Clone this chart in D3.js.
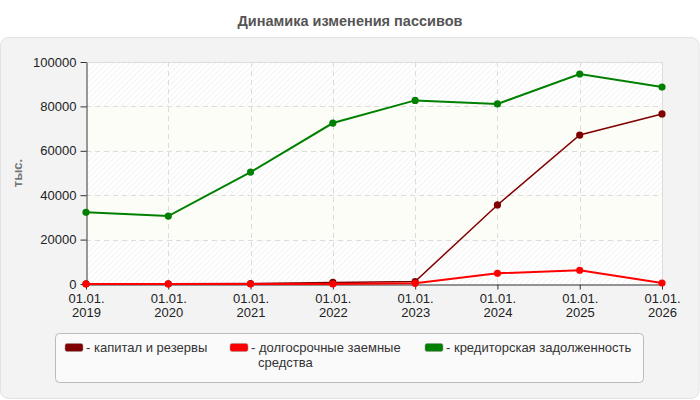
<!DOCTYPE html>
<html><head><meta charset="utf-8">
<script src="https://cdn.jsdelivr.net/npm/d3@7"></script>
<style>body{margin:0;background:#fff;}svg{display:block;font-family:"Liberation Sans",Arial,sans-serif;}</style>
</head><body><svg id="c" width="700" height="400"></svg>
<script>
const categories = ["01.01.2019","01.01.2020","01.01.2021","01.01.2022","01.01.2023","01.01.2024","01.01.2025","01.01.2026"];
const seriesNames = ["капитал и резервы","долгосрочные заемные средства","кредиторская задолженность"];
const seriesColors = ["#800000","#ff0000","#008000"];
const capital = [100, 100, 200, 700, 1100, 35600, 67100, 76600];
const longTerm = [0, 0, 0, 0, 300, 4800, 6200, 450];
const payables = [32300, 30600, 50400, 72500, 82700, 81100, 94600, 88700];
const yTicks = [0, 20000, 40000, 60000, 80000, 100000];
const title = "Динамика изменения пассивов";
const yLabel = "тыс.";

const svg = d3.select("#c");
const defs = svg.append("defs");
const pat = defs.append("pattern").attr("id","hatch").attr("patternUnits","userSpaceOnUse")
  .attr("width",4).attr("height",4).attr("patternTransform","rotate(45)");
pat.append("rect").attr("width",4).attr("height",4).attr("fill","#ffffff");
pat.append("line").attr("x1",0).attr("y1",0).attr("x2",0).attr("y2",4).attr("stroke","#efefef").attr("stroke-width",1.5);

svg.append("text").attr("x",350).attr("y",26).attr("text-anchor","middle")
  .attr("font-size",14.5).attr("font-weight","bold").attr("fill","#555").text(title);

svg.append("rect").attr("x",0.5).attr("y",37.5).attr("width",698.5).attr("height",361).attr("rx",8)
  .attr("fill","#f3f3f3").attr("stroke","#e2e2e2");

const L=86, R=662, T=62, B=284;
const x = d3.scalePoint().domain(categories).range([L,R]);
const y = d3.scaleLinear().domain([0,100000]).range([B,T]);

// bands
for (let i=0;i<yTicks.length-1;i++){
  svg.append("rect").attr("x",L).attr("y",y(yTicks[i+1])).attr("width",R-L).attr("height",y(yTicks[i])-y(yTicks[i+1]))
    .attr("fill", i%2===0 ? "url(#hatch)" : "#fdfdf7");
}
// grid
const g = svg.append("g");
g.selectAll(".hg").data(yTicks.slice(1)).join("line").attr("x1",L).attr("x2",R)
  .attr("y1",d=>Math.round(y(d))+0.5).attr("y2",d=>Math.round(y(d))+0.5)
  .attr("stroke","#dcdcdc").attr("stroke-dasharray","5,4");
g.selectAll(".vg").data(categories.slice(1)).join("line").attr("y1",T).attr("y2",B)
  .attr("x1",d=>Math.round(x(d))+0.5).attr("x2",d=>Math.round(x(d))+0.5)
  .attr("stroke","#dcdcdc").attr("stroke-dasharray","5,4");
svg.append("line").attr("x1",L).attr("x2",R).attr("y1",T+0.5).attr("y2",T+0.5).attr("stroke","#ddd");
svg.append("line").attr("x1",R+0.5).attr("x2",R+0.5).attr("y1",T).attr("y2",B).attr("stroke","#ddd");

// axes
const yAxis = svg.append("g").attr("transform",`translate(${L+0.5},0)`)
  .call(d3.axisLeft(y).tickValues(yTicks).tickFormat(d3.format("d")).tickSize(6).tickSizeOuter(0));
yAxis.select(".domain").attr("stroke","#333");
yAxis.selectAll(".tick line").attr("stroke","#333");
yAxis.selectAll("text").attr("font-size",13).attr("fill","#222").attr("font-family","Liberation Sans, Arial, sans-serif").attr("dx",-1);

const xAxis = svg.append("g").attr("transform",`translate(0,${B+0.5})`)
  .call(d3.axisBottom(x).tickSize(5).tickSizeOuter(0).tickFormat(""));
xAxis.select(".domain").attr("stroke","#333");
xAxis.selectAll(".tick line").attr("stroke","#333");
xAxis.selectAll(".tick").each(function(d){
  const t = d3.select(this).append("text").attr("fill","#222").attr("font-size",13)
    .attr("text-anchor","middle");
  t.append("tspan").attr("x",0).attr("y",18).text(d.slice(0,6));
  t.append("tspan").attr("x",0).attr("y",32).text(d.slice(6));
});

svg.append("text").attr("transform","translate(22,173) rotate(-90)").attr("text-anchor","middle")
  .attr("font-size",13).attr("font-weight","bold").attr("fill","#777").text(yLabel);

// series
const data = [capital, longTerm, payables];
const widths = [1.5, 2, 2];
const line = d3.line().x((d,i)=>x(categories[i])).y(d=>y(d));
data.forEach((s,k)=>{
  svg.append("path").datum(s).attr("d",line).attr("fill","none").attr("stroke",seriesColors[k]).attr("stroke-width",widths[k]);
  svg.append("g").selectAll("circle").data(s).join("circle")
    .attr("cx",(d,i)=>x(categories[i])).attr("cy",d=>y(d)).attr("r",3.6).attr("fill",seriesColors[k]);
});

// legend
svg.append("rect").attr("x",55.5).attr("y",333.5).attr("width",588).attr("height",49).attr("rx",4)
  .attr("fill","#fafafa").attr("stroke","#bbb");
const legX = [65, 230, 425];
seriesNames.forEach((n,k)=>{
  svg.append("rect").attr("x",legX[k]).attr("y",343.5).attr("width",18).attr("height",8).attr("rx",2)
    .attr("fill",seriesColors[k]).attr("stroke","#999").attr("stroke-width",0.5);
  const t = svg.append("text").attr("x",legX[k]+21).attr("y",352).attr("font-size",13).attr("fill","#333");
  if (k===1){
    t.append("tspan").text("- долгосрочные заемные");
    t.append("tspan").attr("x",legX[k]+28).attr("dy",15).text("средства");
  } else t.text("- " + n);
});
</script></body></html>
